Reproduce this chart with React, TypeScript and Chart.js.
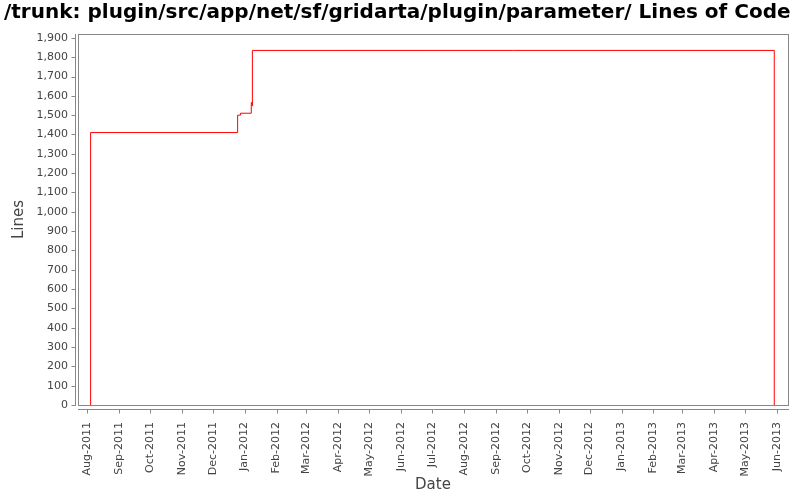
import React, { useEffect, useRef } from 'react';
import { Chart, registerables } from 'chart.js';

Chart.register(...registerables);

const TITLE = '/trunk: plugin/src/app/net/sf/gridarta/plugin/parameter/ Lines of Code';
const X_TITLE = 'Date';
const Y_TITLE = 'Lines';

// step series: each value holds until the next date, then steps
const stepDates = [
  '2011-08-04T12:00',
  '2011-08-04T12:00',
  '2011-12-25T06:00',
  '2011-12-28T00:00',
  '2012-01-07T12:00',
  '2012-01-08T08:00',
  '2012-01-08T14:00',
  '2013-05-29T08:00',
  '2013-05-29T08:00',
];
const stepLines = [0, 1410, 1500, 1510, 1565, 1548, 1835, 1835, 0];

const tickMonths = [
  '2011-08-01', '2011-09-01', '2011-10-01', '2011-11-01', '2011-12-01',
  '2012-01-01', '2012-02-01', '2012-03-01', '2012-04-01', '2012-05-01',
  '2012-06-01', '2012-07-01', '2012-08-01', '2012-09-01', '2012-10-01',
  '2012-11-01', '2012-12-01', '2013-01-01', '2013-02-01', '2013-03-01',
  '2013-04-01', '2013-05-01', '2013-06-01',
];
const monthNames = ['Jan', 'Feb', 'Mar', 'Apr', 'May', 'Jun', 'Jul', 'Aug', 'Sep', 'Oct', 'Nov', 'Dec'];

const X_MIN = '2011-07-23T06:00';
const X_MAX = '2013-06-11T16:00';
const Y_MIN = 0;
const Y_MAX = 1920;
const Y_STEP = 100;

const toMs = (s: string) => new Date((s.length === 10 ? s + 'T00:00' : s) + ':00Z').getTime();

const fmtMonth = (ms: number) => {
  const d = new Date(ms);
  return monthNames[d.getUTCMonth()] + '-' + d.getUTCFullYear();
};

const FONT = 'DejaVu Sans';

export default function App() {
  const ref = useRef<HTMLCanvasElement | null>(null);

  useEffect(() => {
    if (!ref.current) return;
    Chart.defaults.font.family = FONT;

    const framePlugin = {
      id: 'frame',
      beforeDatasetsDraw(chart: any) {
        const { ctx, chartArea: a } = chart;
        ctx.save();
        ctx.fillStyle = '#ffffff';
        ctx.fillRect(a.left, a.top, a.right - a.left, a.bottom - a.top);
        ctx.strokeStyle = '#888888';
        ctx.lineWidth = 1;
        ctx.strokeRect(Math.round(a.left) + 0.5, Math.round(a.top) + 0.5,
          Math.round(a.right - a.left), Math.round(a.bottom - a.top));
        ctx.restore();
      },
      afterDraw(chart: any) {
        const { ctx, chartArea: a, scales } = chart;
        const x = scales.x;
        const y = scales.y;
        ctx.save();
        ctx.strokeStyle = '#888888';
        ctx.lineWidth = 1;
        ctx.beginPath();
        const ax = Math.round(a.left) - 3 + 0.5;
        ctx.moveTo(ax, Math.round(a.top));
        ctx.lineTo(ax, Math.round(a.bottom) + 1);
        y.ticks.forEach((t: any) => {
          const py = Math.round(y.getPixelForValue(t.value)) + 0.5;
          ctx.moveTo(ax - 4, py);
          ctx.lineTo(ax, py);
        });
        const ay = Math.round(a.bottom) + 4 + 0.5;
        ctx.moveTo(Math.round(a.left), ay);
        ctx.lineTo(Math.round(a.right) + 1, ay);
        x.ticks.forEach((t: any) => {
          const px = Math.round(x.getPixelForValue(t.value)) + 0.5;
          ctx.moveTo(px, ay);
          ctx.lineTo(px, ay + 4);
        });
        ctx.stroke();

        ctx.fillStyle = '#000000';
        ctx.font = 'bold 20px "' + FONT + '"';
        ctx.textBaseline = 'middle';
        ctx.textAlign = 'left';
        ctx.fillText(TITLE, 4, 13);
        ctx.restore();
      },
    };

    const chart = new Chart(ref.current, {
      type: 'line',
      data: {
        datasets: [
          {
            data: stepDates.map((d, i) => ({ x: toMs(d), y: stepLines[i] })),
            borderColor: '#ff0000',
            borderWidth: 1,
            pointRadius: 0,
            stepped: 'before',
            fill: false,
            tension: 0,
          },
        ],
      },
      options: {
        responsive: false,
        animation: false,
        layout: { padding: { top: 34, right: 12, bottom: 0, left: 0 } },
        plugins: {
          legend: { display: false },
          tooltip: { enabled: false },
          title: { display: false },
        },
        scales: {
          x: {
            type: 'linear',
            min: toMs(X_MIN),
            max: toMs(X_MAX),
            grid: { display: false, drawTicks: false },
            border: { display: false },
            afterBuildTicks: (scale: any) => {
              scale.ticks = tickMonths.map((m) => ({ value: toMs(m) }));
            },
            afterFit: (scale: any) => {
              scale.height = 95;
              scale.paddingLeft = 0;
              scale.paddingRight = 0;
            },
            ticks: {
              autoSkip: false,
              minRotation: 90,
              maxRotation: 90,
              padding: 17,
              color: '#444444',
              font: { size: 11, family: FONT },
              callback: (v: any) => fmtMonth(Number(v)),
            },
            title: {
              display: true,
              text: X_TITLE,
              color: '#444444',
              font: { size: 15, family: FONT },
              padding: { top: 0, bottom: 6 },
            },
          },
          y: {
            type: 'linear',
            min: Y_MIN,
            max: Y_MAX,
            grid: { display: false, drawTicks: false },
            border: { display: false },
            afterBuildTicks: (scale: any) => {
              scale.ticks = scale.ticks.filter((t: any) => t.value % Y_STEP === 0);
            },
            afterFit: (scale: any) => {
              scale.width = 78;
              scale.paddingTop = 0;
              scale.paddingBottom = 0;
            },
            ticks: {
              stepSize: Y_STEP,
              includeBounds: false,
              padding: 10,
              color: '#444444',
              font: { size: 11, family: FONT },
              callback: (v: any) => Number(v).toLocaleString('en-US'),
            },
            title: {
              display: true,
              text: Y_TITLE,
              color: '#444444',
              font: { size: 15, family: FONT },
              padding: { top: 10, bottom: 0 },
            },
          },
        },
      },
      plugins: [framePlugin],
    });

    return () => chart.destroy();
  }, []);

  return (
    <div style={{ position: 'fixed', left: 0, top: 0, width: 800, height: 500, background: '#ffffff' }}>
      <canvas ref={ref} width={800} height={500} />
    </div>
  );
}
